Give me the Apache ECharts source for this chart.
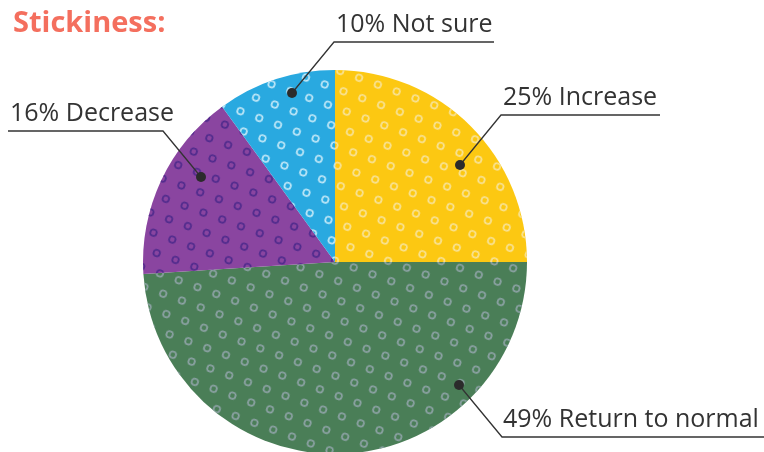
<!DOCTYPE html>
<html>
<head>
<meta charset="utf-8">
<script src="https://cdn.jsdelivr.net/npm/echarts@6/dist/echarts.min.js"></script>
<style>
html,body{margin:0;padding:0;background:#fff;}
#chart{width:764px;height:452px;}
</style>
</head>
<body>
<div id="chart"></div>
<script>
// ---- data ----
const categories = ['Increase', 'Return to normal', 'Decrease', 'Not sure'];
const values = [25, 49, 16, 10];
const titleText = 'Stickiness:';

// ---- styles ----
const sliceColors = ['#fcc812', '#4a7e57', '#8a45a0', '#29a9e0'];
const ringColors = ['#f8e39a', '#8ea3a6', '#4e2a8c', '#c4e9f8'];
// annotation layout: dot position, underline y, underline x-range, text x
const annot = [
  {dot: [460, 165], ly: 115, x1: 501, x2: 660, tx: 503},
  {dot: [459, 385], ly: 437, x1: 502, x2: 764, tx: 503},
  {dot: [201, 177], ly: 131, x1: 163, x2: 8, tx: 10},
  {dot: [292, 93],  ly: 42,  x1: 334, x2: 494, tx: 336}
];

const ringPath = 'path://M10,0A10,10,0,1,1,-10,0A10,10,0,1,1,10,0ZM6,0A6,6,0,1,0,-6,0A6,6,0,1,0,6,0Z';

const chart = echarts.init(document.getElementById('chart'), null, {renderer: 'canvas'});
const graphics = [];
annot.forEach(a => {
  graphics.push({
    type: 'polyline',
    shape: {points: [a.dot, [a.x1, a.ly], [a.x2, a.ly]]},
    style: {stroke: '#333333', lineWidth: 1.3, fill: null},
    z: 100
  });
  graphics.push({
    type: 'circle',
    shape: {cx: a.dot[0], cy: a.dot[1], r: 5},
    style: {fill: '#2b2b2b'},
    z: 101
  });
});

const option = {
  animation: false,
  title: {
    text: titleText,
    left: 8,
    top: 4,
    textStyle: {fontFamily: 'Open Sans', fontWeight: 'bold', fontSize: 29, color: '#f46f5e'}
  },
  series: [{
    type: 'pie',
    center: [335, 262],
    radius: 192,
    startAngle: 90,
    clockwise: true,
    avoidLabelOverlap: false,
    data: categories.map((c, i) => ({
      name: c,
      value: values[i],
      itemStyle: {
        color: sliceColors[i],
        decal: {
          symbol: ringPath,
          symbolSize: 1,
          symbolKeepAspect: true,
          color: ringColors[i],
          dashArrayX: [[8, 12], [0, 10, 8, 2]],
          dashArrayY: [8, 10],
          rotation: 0.35
        }
      }
    })),
    label: {
      show: true,
      position: 'outside',
      formatter: '{d}% {b}',
      fontFamily: 'Open Sans',
      fontSize: 25,
      color: '#333333'
    },
    labelLine: {show: false},
    labelLayout: function (p) {
      const a = annot[p.dataIndex];
      return {
        x: a.tx,
        y: a.ly - 5,
        align: 'left',
        verticalAlign: 'bottom'
      };
    },
    emphasis: {disabled: true}
  }],
  graphic: graphics
};
chart.setOption(option);
</script>
</body>
</html>
